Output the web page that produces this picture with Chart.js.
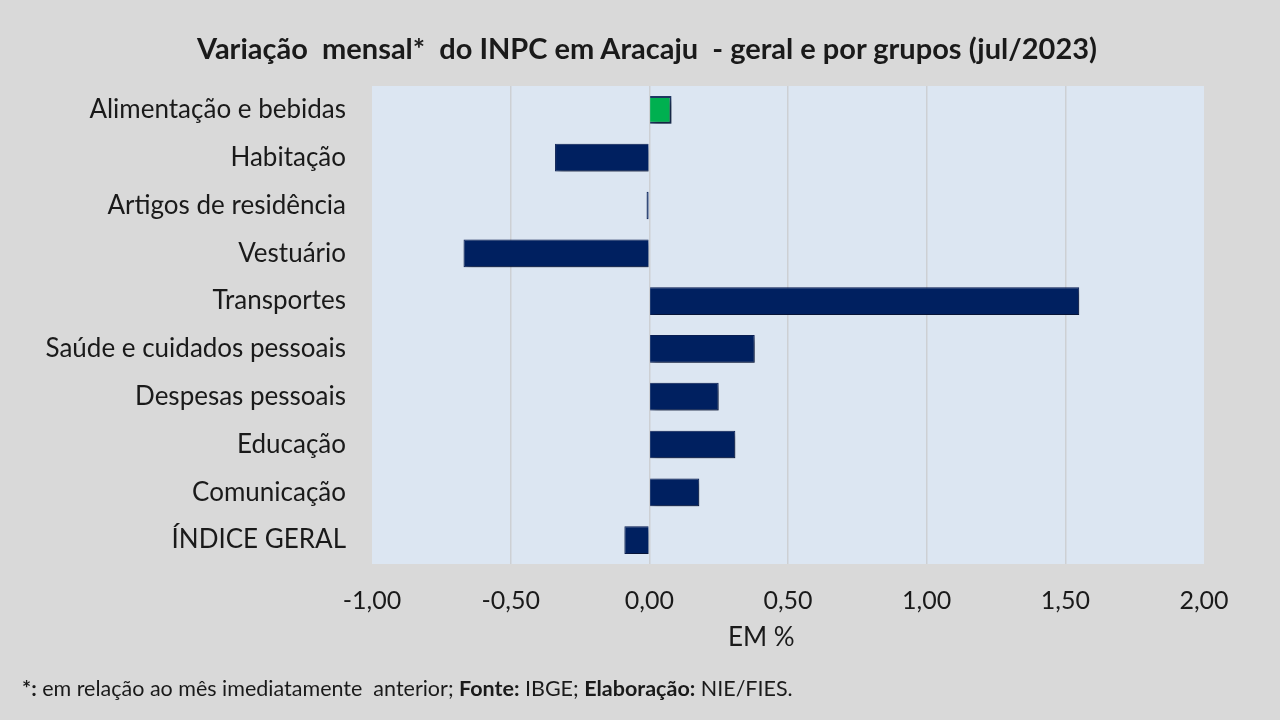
<!DOCTYPE html>
<html lang="pt-br">
<head>
  <meta charset="UTF-8">
  <title>INPC Aracaju - jul/2023</title>
  <script src="https://cdn.jsdelivr.net/npm/chart.js"></script>
  <style>
    html, body { margin: 0; padding: 0; background: #d9d9d9; }
    .wrap { position: relative; width: 1280px; height: 720px; overflow: hidden; }
    canvas { position: absolute; left: 0; top: 0; }
    .titulo {
      position: absolute; left: 0; top: 30px; width: 1294px;
      text-align: center; line-height: 36px;
      font-family: Lato, "Liberation Sans", sans-serif;
      font-size: 29px; font-weight: bold; color: #1a1a1a; white-space: pre;
    }
    .nota {
      position: absolute; left: 22px; top: 674px; line-height: 28px;
      font-family: Lato, "Liberation Sans", sans-serif;
      font-size: 21.5px; color: #1a1a1a; white-space: pre;
    }
  </style>
</head>
<body>
  <div class="wrap">
    <canvas id="grafico" width="1280" height="720"></canvas>
    <div class="titulo">Variação  mensal*  do INPC em Aracaju  - geral e por grupos (jul/2023)</div>
    <div class="nota"><b>*:</b> em relação ao mês imediatamente  anterior; <b>Fonte:</b> IBGE; <b>Elaboração:</b> NIE/FIES.</div>
  </div>

<script>
  const grupos = [
    "Alimentação e bebidas",
    "Habitação",
    "Artigos de residência",
    "Vestuário",
    "Transportes",
    "Saúde e cuidados pessoais",
    "Despesas pessoais",
    "Educação",
    "Comunicação",
    "ÍNDICE GERAL"
  ];
  const variacao = [0.08, -0.34, -0.01, -0.67, 1.55, 0.38, 0.25, 0.31, 0.18, -0.09];
  const ticksX = [-1, -0.5, 0, 0.5, 1, 1.5, 2];

  const fonte = "Lato, 'Liberation Sans', sans-serif";

  // fundo da area do grafico
  const fundoPlot = {
    id: "fundoPlot",
    beforeDraw(chart) {
      const { ctx, chartArea: a } = chart;
      ctx.save();
      ctx.fillStyle = "#dce6f2";
      ctx.fillRect(a.left, a.top, a.right - a.left, a.bottom - a.top);
      ctx.restore();
    }
  };

  // sombra das barras
  const sombra = {
    id: "sombra",
    beforeDatasetsDraw(chart) {
      const ctx = chart.ctx;
      ctx.save();
      ctx.shadowColor = "rgba(0,0,0,0.4)";
      ctx.shadowBlur = 6;
      ctx.shadowOffsetX = 3;
      ctx.shadowOffsetY = 4;
    },
    afterDatasetsDraw(chart) {
      chart.ctx.restore();
    }
  };

  const cores = variacao.map((v, i) => i === 0 ? "#00b050" : "#002060");
  const bordas = variacao.map((v, i) => i === 0 ? "#1f3864" : "#0a1f55");
  const espessura = variacao.map((v, i) => i === 0 ? 2 : 1);

  const config = {
    type: "bar",
    data: {
      labels: grupos,
      datasets: [{
        label: "Variação mensal (%)",
        data: variacao,
        backgroundColor: cores,
        borderColor: bordas,
        borderWidth: espessura,
        barPercentage: 0.58,
        categoryPercentage: 1
      }]
    },
    options: {
      indexAxis: "y",
      responsive: false,
      animation: false,
      layout: { padding: { left: 0, right: 76, top: 86, bottom: 0 } },
      plugins: {
        legend: { display: false },
        tooltip: { enabled: false },
        title: { display: false }
      },
      scales: {
        x: {
          min: -1,
          max: 2,
          afterBuildTicks(axis) {
            axis.ticks = ticksX.map(v => ({ value: v }));
          },
          afterFit(axis) { axis.height = 156; },
          ticks: {
            color: "#1a1a1a",
            padding: 22,
            font: { family: fonte, size: 25 },
            callback: v => v.toFixed(2).replace(".", ",")
          },
          grid: {
            drawTicks: false,
            lineWidth: 1.5,
            color: c => (c.tick && (c.tick.value === -1 || c.tick.value === 2)) ? "rgba(0,0,0,0)" : "#cdd0d4"
          },
          border: { display: false },
          title: {
            display: true,
            text: "EM %        ",
            color: "#1a1a1a",
            font: { family: fonte, size: 26 },
            padding: { top: 6, bottom: 67 }
          }
        },
        y: {
          afterFit(axis) { axis.width = 372; },
          ticks: {
            color: "#1a1a1a",
            padding: 26,
            font: { family: fonte, size: 26 }
          },
          grid: { display: false, drawTicks: false },
          border: { display: false }
        }
      }
    },
    plugins: [fundoPlot, sombra]
  };

  new Chart(document.getElementById("grafico"), config);
</script>
</body>
</html>
